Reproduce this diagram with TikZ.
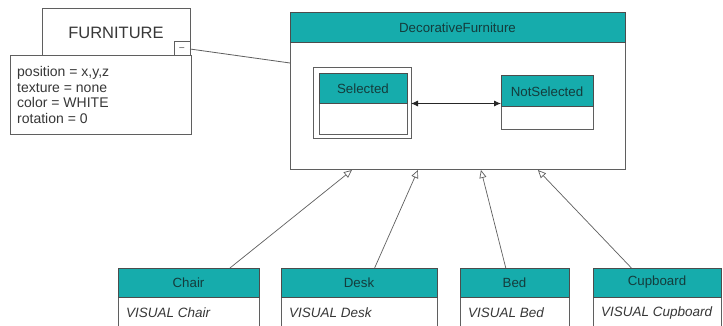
\documentclass[tikz,border=0pt]{standalone}
\usepackage{fontspec}
\setmainfont{Liberation Sans}
\usetikzlibrary{arrows.meta,calc}
\definecolor{teal1}{RGB}{22,172,172}
\definecolor{bord}{RGB}{95,95,95}
\definecolor{htext}{RGB}{20,60,60}
\definecolor{txt}{RGB}{55,55,55}
\begin{document}
\begin{tikzpicture}[x=1pt,y=-1pt,
  box/.style={draw=bord, line width=1pt, fill=white, inner sep=0pt, outer sep=0pt, anchor=north west},
  hdr/.style={box, fill=teal1, draw=black!70, text=htext, font=\fontsize{13.3}{15}\selectfont},
  bodytext/.style={anchor=west, inner sep=0pt, text=txt, font=\fontsize{13.5}{15}\selectfont\itshape},
  gen/.style={draw=bord, line width=0.7pt, -{Triangle[open,length=8pt,width=7pt]}},
  link/.style={draw=bord, line width=0.8pt}]
\clip (0,0) rectangle (723,326);
\fill[white] (0,0) rectangle (723,326);

% FURNITURE object
\node[box, minimum width=181pt, minimum height=79pt] (fattr) at (10,56) {};
\node[box, minimum width=148pt, minimum height=47pt, text=txt, font=\fontsize{16.5}{18}\selectfont] (ftitle) at (42,9) {FURNITURE};
\node[box, minimum width=16pt, minimum height=14pt, font=\fontsize{9}{9}\selectfont, text=txt] (fmin) at (174,42) {--};
\node[anchor=north west, align=left, inner sep=0pt, text=txt, font=\fontsize{14}{15.7}\selectfont] (fattrtext) at (17,66)
  {position = x,y,z\\texture = none\\color = WHITE\\rotation = 0};

% DecorativeFurniture
\node[box, minimum width=335pt, minimum height=127pt] (decob) at (290,43) {};
\node[hdr, minimum width=335pt, minimum height=30pt] (decoh) at (290,13) {DecorativeFurniture};

% Selected (composite)
\node[box, minimum width=98pt, minimum height=71pt] (selout) at (313,68) {};
\node[box, minimum width=88pt, minimum height=31pt] (selb) at (319,104) {};
\node[hdr, minimum width=88pt, minimum height=30pt] (selh) at (319,74) {Selected};

% NotSelected
\node[box, minimum width=92pt, minimum height=23pt] (nsb) at (501,107) {};
\node[hdr, minimum width=92pt, minimum height=31pt] (nsh) at (501,76) {NotSelected};

% Bottom classes
\node[box, minimum width=141pt, minimum height=50pt] (chairb) at (118,297) {};
\node[hdr, minimum width=141pt, minimum height=29pt] (chairh) at (118,268) {Chair};
\node[bodytext] (chairt) at ($(chairb.north west)+(8,16)$) {VISUAL Chair};

\node[box, minimum width=156pt, minimum height=50pt] (deskb) at (281,297) {};
\node[hdr, minimum width=156pt, minimum height=29pt] (deskh) at (281,268) {Desk};
\node[bodytext] (deskt) at ($(deskb.north west)+(8,16)$) {VISUAL Desk};

\node[box, minimum width=109pt, minimum height=50pt] (bedb) at (460,297) {};
\node[hdr, minimum width=109pt, minimum height=29pt] (bedh) at (460,268) {Bed};
\node[bodytext] (bedt) at ($(bedb.north west)+(8,16)$) {VISUAL Bed};

\node[box, minimum width=128pt, minimum height=50pt] (cupb) at (593,297) {};
\node[hdr, minimum width=128pt, minimum height=29pt] (cuph) at (593,268) {Cupboard};
\node[bodytext] (cupt) at ($(cupb.north west)+(8,16)$) {VISUAL Cupboard};

% connectors
\draw[link] (fmin.east) -- ($(decob.north west)+(0,20)$);
\draw[black!85, line width=0.8pt, {Latex[length=7pt,width=6pt]}-{Latex[length=7pt,width=6pt]}]
  (selout.east) -- (selout.east -| nsh.west);

\draw[gen] ($(chairh.north west)!0.794!(chairh.north east)$) -- ($(decob.south west)!0.185!(decob.south east)$);
\draw[gen] ($(deskh.north west)!0.60!(deskh.north east)$) -- ($(decob.south west)!0.382!(decob.south east)$);
\draw[gen] ($(bedh.north west)!0.42!(bedh.north east)$) -- ($(decob.south west)!0.570!(decob.south east)$);
\draw[gen] ($(cuph.north west)!0.30!(cuph.north east)$) -- ($(decob.south west)!0.740!(decob.south east)$);
\end{tikzpicture}
\end{document}
